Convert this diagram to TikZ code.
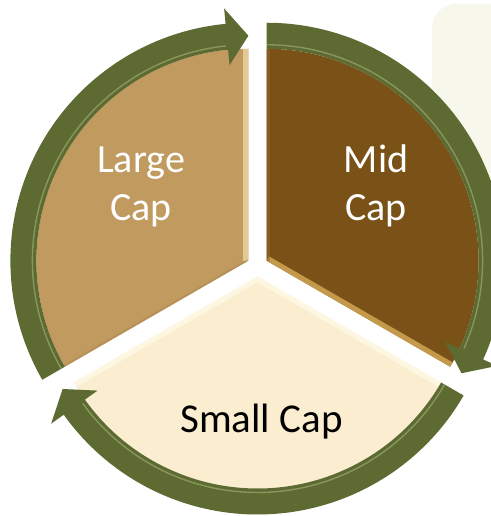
\documentclass[tikz,border=0pt]{standalone}
\usepackage{fontspec}
\setmainfont{Carlito}
\definecolor{panel}{HTML}{F8F7EC}
\definecolor{largefill}{HTML}{C09A5F}
\definecolor{midfill}{HTML}{7A5217}
\definecolor{smallfill}{HTML}{FBEED0}
\definecolor{ringgreen}{HTML}{5D6B33}
\definecolor{ringlight}{HTML}{B3C285}
\newcommand\ringarrow[3]{%
  \begin{scope}[shift={#1}]
    \fill[ringstyle] (#2:238pt) arc[start angle=#2,end angle={#3+5.5},radius=238pt]
      -- ({#3+5.5}:253.5pt) -- (#3:225pt) -- ({#3+5.5}:196.5pt) -- ({#3+5.5}:212pt)
      arc[start angle={#3+5.5},end angle=#2,radius=212pt] -- cycle;
    \draw[ringhl] (#2:216pt) arc[start angle=#2,end angle={#3+6},radius=216pt];
  \end{scope}}
\newcommand\sectorpath[2]{(0,0) -- (#1:212pt) arc[start angle=#1,end angle=#2,radius=212pt] -- cycle}
\begin{document}
\begin{tikzpicture}[x=1pt,y=1pt,
  ringstyle/.style={fill=ringgreen},
  ringhl/.style={draw=ringlight,line width=1.4pt,opacity=0.5},
  lbl/.style={inner sep=0pt,align=center,font=\fontsize{40}{48}\selectfont},
  bevel/.style={line width=10pt,opacity=0.75}]
\useasboundingbox (0,0) rectangle (490,516);
\fill[white] (0,0) rectangle (490,516);
\fill[panel,rounded corners=24pt] (432,176) rectangle (530,512);
\coordinate (Lc) at (248.4,255.25);
\coordinate (Mc) at (266.6,255.25);
\coordinate (Sc) at (257.5,239.5);
% Large Cap sector
\begin{scope}[shift={(Lc)}]
  \fill[largefill] \sectorpath{90}{210};
  \begin{scope}
    \clip \sectorpath{90}{210};
    \draw[bevel,draw={rgb,255:red,240;green,218;blue,165}] (0,0) -- (90:212pt);
    \draw[line width=4pt,opacity=0.25,draw={rgb,255:red,150;green,115;blue,65}] (0,0) -- (210:212pt);
  \end{scope}
\end{scope}
% Mid Cap sector
\begin{scope}[shift={(Mc)}]
  \fill[midfill] \sectorpath{-30}{90};
  \begin{scope}
    \clip \sectorpath{-30}{90};
    \draw[bevel,draw={rgb,255:red,222;green,178;blue,92}] (0,0) -- (-30:212pt);
    \draw[line width=6pt,opacity=0.5,draw={rgb,255:red,150;green,105;blue,40}] (0,0) -- (90:212pt);
  \end{scope}
\end{scope}
% Small Cap sector
\begin{scope}[shift={(Sc)}]
  \fill[smallfill] \sectorpath{210}{330};
  \begin{scope}
    \clip \sectorpath{210}{330};
    \draw[bevel,draw={rgb,255:red,255;green,250;blue,232}] (210:212pt) -- (0,0) -- (330:212pt);
  \end{scope}
\end{scope}
% circular arrows
\ringarrow{(Lc)}{210}{90}
\ringarrow{(Mc)}{90}{-30}
\ringarrow{(Sc)}{-30}{-150}
% labels
\node[lbl,text=white] (large) at (141,329) {Large\\Cap};
\node[lbl,text=white] (mid) at (376,330) {Mid\\Cap};
\node[lbl,text=black,anchor=base,font=\fontsize{41}{49}\selectfont] (small) at (261.5,83) {Small Cap};
\end{tikzpicture}
\end{document}
